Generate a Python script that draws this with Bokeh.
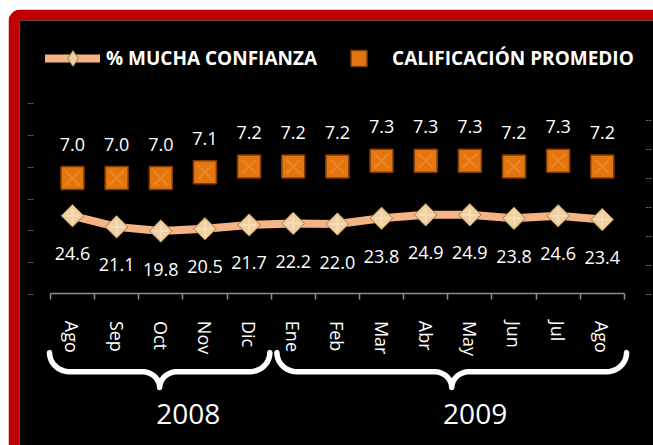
import numpy as np
from bokeh.plotting import figure
from bokeh.models import (Range1d, LinearAxis, FixedTicker, ColumnDataSource, Legend,
                          LegendItem, CustomJSTickFormatter)
from bokeh.embed import file_html
from bokeh.resources import INLINE
from bokeh.core.properties import value

# ---- data ----
months = ["Ago", "Sep", "Oct", "Nov", "Dic", "Ene", "Feb", "Mar", "Abr", "May", "Jun", "Jul", "Ago"]
years = ["2008", "2009"]
year_counts = [5, 8]
confianza = [24.6, 21.1, 19.8, 20.5, 21.7, 22.2, 22.0, 23.8, 24.9, 24.9, 23.8, 24.6, 23.4]
calificacion = [7.0, 7.0, 7.0, 7.1, 7.2, 7.2, 7.2, 7.3, 7.3, 7.3, 7.2, 7.3, 7.2]
pct_ticks = [0, 10, 20, 30, 40, 50, 60]
score_ticks = [5.0, 5.5, 6.0, 6.5, 7.0, 7.5, 8.0]

FONT = "Open Sans"
n = len(months)
xs = [i + 0.5 for i in range(n)]
bounds_ticks = list(range(n + 1))

src = ColumnDataSource(dict(
    x=xs, month=months, conf=confianza, cal=calificacion,
    conf_lbl=[f"{v:.1f}" for v in confianza],
    cal_lbl=[f"{v:.1f}" for v in calificacion],
))

p = figure(width=645, height=436, output_backend="svg", toolbar_location=None,
           x_range=Range1d(-0.70, 13.66), y_range=Range1d(-47.75, 86.1),
           x_axis_location=None, y_axis_location=None,
           min_border=0, min_border_left=11, min_border_top=11,
           min_border_right=0, min_border_bottom=0,
           border_fill_color="#C00000", background_fill_color="black",
           outline_line_color=None)
p.grid.visible = False
p.extra_y_ranges = {"score": Range1d(2.379, 9.724)}
p.styles = {"margin-left": "8px", "margin-top": "9px",
            "border-top-left-radius": "14px", "overflow": "hidden"}

dash_fmt = CustomJSTickFormatter(code="return '--'")

left_ax = LinearAxis(fixed_location=-0.20, ticker=FixedTicker(ticks=pct_ticks),
                     formatter=dash_fmt, axis_line_color=None,
                     major_tick_line_color=None, minor_tick_line_color=None,
                     major_label_text_color="#8a8a8a", major_label_text_font_size="9px",
                     major_label_standoff=2)
p.add_layout(left_ax, "left")

right_ax = LinearAxis(y_range_name="score", fixed_location=13.3,
                      ticker=FixedTicker(ticks=score_ticks), formatter=dash_fmt,
                      axis_line_color=None, major_tick_line_color=None,
                      minor_tick_line_color=None, major_label_text_color="#8a8a8a",
                      major_label_text_font_size="9px", major_label_standoff=2)
p.add_layout(right_ax, "right")

x_ax = LinearAxis(fixed_location=0,
                  ticker=FixedTicker(ticks=xs, minor_ticks=bounds_ticks),
                  formatter=CustomJSTickFormatter(args=dict(months=months),
                                                  code="return months[Math.round(tick - 0.5)] || ''"),
                  bounds=(0, n), axis_line_color="#8c8c8c", axis_line_width=1.5,
                  major_tick_line_color=None, major_tick_out=0, major_tick_in=0,
                  minor_tick_line_color="#8c8c8c", minor_tick_line_width=1.5,
                  minor_tick_out=6, minor_tick_in=0,
                  major_label_orientation="vertical", major_label_standoff=21,
                  major_label_text_color="white", major_label_text_font=FONT,
                  major_label_text_font_size="18px")
p.add_layout(x_ax, "below")

# ---- series ----
line_r = p.line("x", "conf", source=src, line_color="#F4B483", line_width=8,
                line_join="round", line_cap="round")
# diamond (drawn underneath, also serves as the legend swatch)
dia_leg = p.scatter("x", "conf", source=src, marker="diamond", size=20,
                    fill_color="#F0CFA0", line_color="#9E7A4A", line_width=1)
p.scatter("x", "conf", source=src, marker="square", angle=np.pi / 4, size=16,
          fill_color="#F0CFA0", line_color="#9E7A4A", line_width=1)
p.scatter("x", "conf", source=src, marker="cross", size=14, line_color="#FFF6E6",
          line_alpha=0.4, line_width=2)

sq_r = p.scatter("x", "cal", source=src, y_range_name="score", marker="square", size=23,
                 fill_color="#E5760F", line_color="#7E3C05", line_width=1.5)
p.scatter("x", "cal", source=src, y_range_name="score", marker="x", size=20,
          line_color="#F9B060", line_alpha=0.3, line_width=2)

p.text("x", "conf", text="conf_lbl", source=src, y_offset=38, text_align="center",
       text_baseline="middle", text_color="white", text_font=value(FONT),
       text_font_size="18px")
p.text("x", "cal", text="cal_lbl", source=src, y_range_name="score", y_offset=-34,
       text_align="center", text_baseline="middle", text_color="white",
       text_font=value(FONT), text_font_size="18px")

# ---- year braces ----
y_top, y_mid, y_tip = -18.5, -24.5, -29.5
r_end, r_mid = 0.45, 0.40
t = np.linspace(0, np.pi / 2, 12)
bx, by, yx, yy = [], [], [], []
start = 0
for yr, cnt in zip(years, year_counts):
    x0 = start - 0.02 if start == 0 else start + 0.13
    x1 = start + cnt - 0.03 if start == 0 else start + cnt + 0.05
    xc = (x0 + x1) / 2
    lx = list(x0 + r_end - r_end * np.cos(t))
    ly = list(y_top + (y_mid - y_top) * np.sin(t))
    cx = list(xc - r_mid + r_mid * np.sin(t))
    cy = list(y_tip - (y_tip - y_mid) * np.cos(t))
    left_x = lx + cx
    left_y = ly + cy
    right_x = [2 * xc - v for v in left_x[::-1]]
    right_y = left_y[::-1]
    bx.append(left_x + right_x)
    by.append(left_y + right_y)
    yx.append(start + cnt / 2 + 0.62)
    yy.append(-37.7)
    start += cnt

p.multi_line(bx, by, line_color="white", line_width=5.5, line_cap="round", line_join="round")
p.text(yx, yy, text=years, text_align="center", text_baseline="middle",
       text_color="white", text_font=value(FONT), text_font_size="28px")

legend = Legend(items=[LegendItem(label="% MUCHA CONFIANZA", renderers=[line_r, dia_leg]),
                       LegendItem(label="CALIFICACIÓN PROMEDIO", renderers=[sq_r])],
                orientation="horizontal", location=(26, 367), margin=0, padding=0,
                glyph_width=55, glyph_height=40, label_height=40, label_standoff=6,
                spacing=14, background_fill_alpha=0, border_line_color=None,
                label_text_color="white", label_text_font=FONT,
                label_text_font_style="bold", label_text_font_size="19px")
p.add_layout(legend)

open("out.html", "w").write(file_html(p, INLINE))
